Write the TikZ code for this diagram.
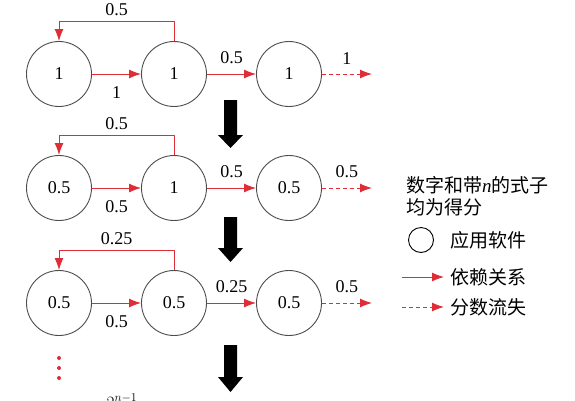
\documentclass[tikz,border=0pt]{standalone}
\usepackage{fontspec}
\setmainfont{Liberation Serif}
\newfontfamily\cjk{Noto Sans CJK SC}
\usetikzlibrary{arrows.meta}
\definecolor{depred}{RGB}{222,45,55}
\tikzset{
  app/.style={circle, draw=black!70, line width=0.9pt, minimum size=65pt, inner sep=0pt},
  tip/.style={-{Latex[length=12pt,width=9pt]}},
  dep/.style={draw=depred, line width=1pt, tip},
  loss/.style={dep, dash pattern=on 4pt off 3pt},
  val/.style={inner sep=2pt},
  legend/.style={anchor=west, inner sep=0pt, font=\cjk\fontsize{19}{22}\selectfont},
}
\begin{document}
\begin{tikzpicture}[x=1pt, y=-1pt, line join=round, font=\fontsize{18}{20}\selectfont]
	\useasboundingbox (0,0) rectangle (575,400);
	% three rounds of score passing
	\foreach \y/\a/\b/\c/\fb/\ab/\bc/\ls [count=\i] in
		{74/1/1/1/0.5/1/0.5/1, 188/0.5/1/0.5/0.5/0.5/0.5/0.5, 303/0.5/0.5/0.5/0.25/0.5/0.25/0.5}
	{
		\node[app] (a\i) at (59,\y) {\a};
		\node[app] (b\i) at (174,\y) {\b};
		\node[app] (c\i) at (289,\y) {\c};
		\coordinate (e\i) at (372,\y);
		\draw[dep] (a\i) -- node[val, below=10pt] {\ab} (b\i);
		\draw[dep] (b\i) -- node[val, above=7.5pt] {\bc} (c\i);
		\draw[loss] (c\i) -- node[val, above=7.5pt] {\ls} (e\i);
		\draw[dep] (b\i.north) -- ++(0,-19.5) -| node[val, pos=0.25, above=3.5pt] {\fb} (a\i.north);
	}
	% big arrows between rounds
	\foreach \t/\h/\b in {100/135/148, 217/248/262, 345/377/392}
		\fill (224,\t) -- (237,\t) -- (237,\h) -- (243,\h) -- (230.5,\b) -- (218,\h) -- (224,\h) -- cycle;
	\foreach \d in {358,368,378}
		\fill[depred] (59,\d) circle (2pt);
	\node[anchor=north, inner sep=0pt] (sum) at (122,394) {$2^{n-1}$};
	% legend
	\node[legend] (l1) at (406,185) {数字和带{\rmfamily\itshape n}的式子};
	\node[legend] (l2) at (406,207) {均为得分};
	\node[circle, draw, line width=0.9pt, minimum size=25pt, inner sep=0pt] (lc) at (421,240) {};
	\node[legend] (l3) at (450,240) {应用软件};
	\coordinate (s1) at (402,277);
	\coordinate (s2) at (444,277);
	\draw[dep] (s1) -- (s2);
	\node[legend] (l4) at (450,277) {依赖关系};
	\coordinate (d1) at (402,307);
	\coordinate (d2) at (444,307);
	\draw[loss] (d1) -- (d2);
	\node[legend] (l5) at (450,307) {分数流失};
\end{tikzpicture}
\end{document}
